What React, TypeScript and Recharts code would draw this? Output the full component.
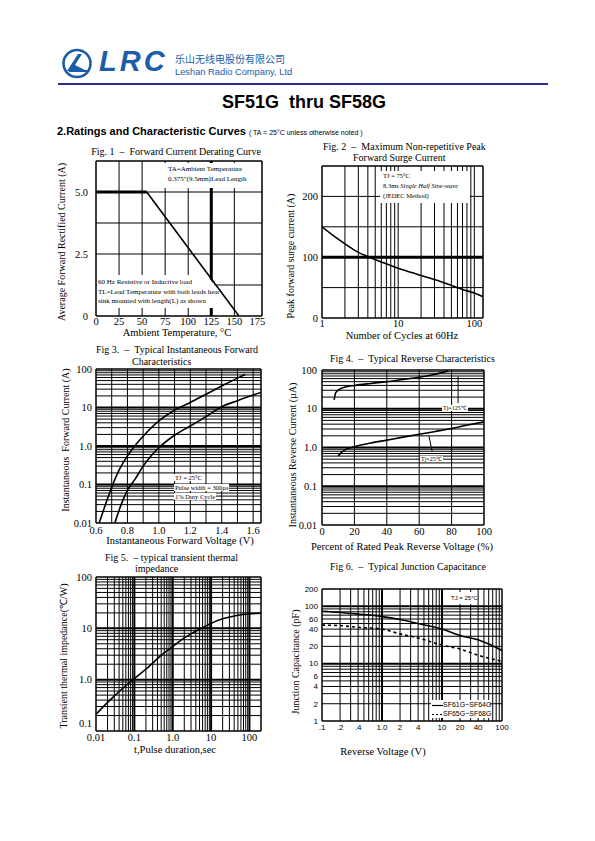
import React from 'react';
import { LineChart, Line, XAxis, YAxis, ReferenceLine } from 'recharts';

// ---------- Fig 1: forward current derating ----------
const f1Flat = [{ t: 0, a: 5 }, { t: 55, a: 5 }];
const f1Slope = [{ t: 55, a: 5 }, { t: 155, a: 0 }];
const f1XTicks = [0, 25, 50, 75, 100, 125, 150, 175];
const f1YTicks = [0, 2.5, 5];
const f1YLabels = ['0', '2.5', '5.0'];
const f1GridX = [25, 50, 75, 100, 125, 150];
const f1GridY = [1.25, 2.5, 3.75, 5];

// ---------- Fig 2: peak forward surge current ----------
const f2Surge = [
  { n: 1, a: 150 }, { n: 1.5, a: 133 }, { n: 2, a: 122 }, { n: 3, a: 108 }, { n: 4, a: 101 },
  { n: 6, a: 92 }, { n: 10, a: 82 }, { n: 20, a: 70 }, { n: 40, a: 58 }, { n: 70, a: 47 },
  { n: 100, a: 41 }, { n: 130, a: 35 },
];
const f2XTicks = [1, 10, 100];
const f2YTicks = [0, 100, 200];
const f2GridY = [50, 100, 150, 200];

// ---------- Fig 3: forward characteristics ----------
const f3CurveA = [
  { v: 0.62, i: 0.01 }, { v: 0.66, i: 0.03 }, { v: 0.7, i: 0.085 }, { v: 0.75, i: 0.25 },
  { v: 0.8, i: 0.55 }, { v: 0.85, i: 1.05 }, { v: 0.9, i: 1.8 }, { v: 1.0, i: 4.5 },
  { v: 1.1, i: 8.5 }, { v: 1.2, i: 13.5 }, { v: 1.3, i: 22 }, { v: 1.4, i: 36 },
  { v: 1.5, i: 58 }, { v: 1.55, i: 72 },
];
const f3CurveB = [
  { v: 0.72, i: 0.01 }, { v: 0.76, i: 0.03 }, { v: 0.8, i: 0.07 }, { v: 0.85, i: 0.14 },
  { v: 0.9, i: 0.3 }, { v: 0.95, i: 0.55 }, { v: 1.0, i: 0.9 }, { v: 1.1, i: 1.9 },
  { v: 1.2, i: 3.3 }, { v: 1.3, i: 5.8 }, { v: 1.4, i: 10.5 }, { v: 1.5, i: 15 },
  { v: 1.6, i: 21 }, { v: 1.65, i: 24.5 },
];
const f3XTicks = [0.6, 0.8, 1.0, 1.2, 1.4, 1.6];
const f3XLabels = ['0.6', '0.8', '1.0', '1.2', '1.4', '1.6'];
const f3GridX = [0.7, 0.8, 0.9, 1.0, 1.1, 1.2, 1.3, 1.4, 1.5, 1.6];
const decadeTicks = [0.01, 0.1, 1, 10, 100];
const decadeLabels = ['0.01', '0.1', '1.0', '10', '100'];

// ---------- Fig 4: reverse characteristics ----------
const f4Tj125 = [
  { p: 7.5, i: 17 }, { p: 8.5, i: 26 }, { p: 11, i: 32 }, { p: 15, i: 37 }, { p: 20, i: 40 },
  { p: 30, i: 45 }, { p: 40, i: 50 }, { p: 50, i: 57 }, { p: 60, i: 65 }, { p: 70, i: 78 },
  { p: 78, i: 95 },
];
const f4Tj25 = [
  { p: 10, i: 0.6 }, { p: 12, i: 0.75 }, { p: 15, i: 0.9 }, { p: 20, i: 1.05 }, { p: 30, i: 1.3 },
  { p: 40, i: 1.55 }, { p: 50, i: 1.85 }, { p: 60, i: 2.2 }, { p: 70, i: 2.6 }, { p: 80, i: 3.1 },
  { p: 90, i: 3.8 }, { p: 100, i: 4.6 },
];
const f4XTicks = [0, 20, 40, 60, 80, 100];
const f4GridX = [20, 40, 60, 80];

// ---------- Fig 5: transient thermal impedance ----------
const f5Thermal = [
  { t: 0.01, z: 0.21 }, { t: 0.02, z: 0.36 }, { t: 0.03, z: 0.48 }, { t: 0.05, z: 0.68 },
  { t: 0.1, z: 1.05 }, { t: 0.2, z: 1.6 }, { t: 0.3, z: 2.1 }, { t: 0.5, z: 3.0 },
  { t: 1, z: 4.4 }, { t: 2, z: 6.5 }, { t: 3, z: 7.8 }, { t: 5, z: 9.6 }, { t: 10, z: 12.5 },
  { t: 20, z: 15.3 }, { t: 50, z: 18 }, { t: 100, z: 19.2 }, { t: 200, z: 19.8 },
];
const f5XTicks = [0.01, 0.1, 1, 10, 100];
const f5XLabels = ['0.01', '0.1', '1.0', '10', '100'];
const f5YTicks = [0.1, 1, 10, 100];
const f5YLabels = ['0.1', '1.0', '10', '100'];

// ---------- Fig 6: junction capacitance ----------
const f6Low = [
  { v: 0.1, c: 82 }, { v: 0.2, c: 78 }, { v: 0.4, c: 73 }, { v: 1, c: 66 }, { v: 2, c: 59 },
  { v: 4, c: 50 }, { v: 10, c: 40 }, { v: 20, c: 31 }, { v: 40, c: 26 }, { v: 100, c: 17 },
];
const f6High = [
  { v: 0.1, c: 47 }, { v: 0.2, c: 46 }, { v: 0.4, c: 43 }, { v: 1, c: 40 }, { v: 2, c: 33 },
  { v: 4, c: 28 }, { v: 10, c: 21 }, { v: 20, c: 18 }, { v: 40, c: 14 }, { v: 100, c: 11 },
];
const f6XTicks = [0.1, 0.2, 0.4, 1, 2, 4, 10, 20, 40, 100];
const f6XLabels = ['.1', '.2', '.4', '1.0', '2', '4', '10', '20', '40', '100'];
const f6YTicks = [1, 2, 4, 6, 10, 20, 40, 60, 100, 200];

// ---------- helpers ----------
const serif = '"Liberation Serif", "Times New Roman", serif';
const sans = '"Liberation Sans", Arial, sans-serif';

const logGrid = (lo: number, hi: number) => {
  const out: number[] = [];
  for (let d = Math.pow(10, Math.floor(Math.log10(lo))); d <= hi; d *= 10) {
    for (let k = 1; k <= 9; k++) {
      const v = +(d * k).toPrecision(6);
      if (v > lo && v < hi) out.push(v);
    }
  }
  return out;
};
const isDecade = (v: number) => Math.abs(Math.log10(v) - Math.round(Math.log10(v))) < 1e-6;
const dec2 = (v: number) => (isDecade(v) ? 2 : 1);

const lines = (vals: number[], axis: 'x' | 'y', width: (v: number) => number = () => 1) =>
  vals.map((v) =>
    axis === 'x' ? (
      <ReferenceLine key={'gx' + v} x={v} stroke="#000" strokeWidth={width(v)} />
    ) : (
      <ReferenceLine key={'gy' + v} y={v} stroke="#000" strokeWidth={width(v)} />
    ),
  );

const labelOf = (ticks: number[], labels: string[]) => (v: number) => {
  const k = ticks.findIndex((t) => Math.abs(t - v) < 1e-9);
  return k >= 0 ? labels[k] : String(v);
};

type Rect = { x0: number; y0: number; x1: number; y1: number };
const PAD_T = 10;
const PAD_R = 12;
const YW = 40;
const XH = 24;
const frame = (r: Rect) => ({
  style: { position: 'absolute' as const, left: r.x0 - YW, top: r.y0 - PAD_T },
  width: r.x1 - r.x0 + YW + PAD_R,
  height: r.y1 - r.y0 + PAD_T + XH,
});
const margin = { top: PAD_T, right: PAD_R, left: 0, bottom: 0 };
const serifTick = { fill: '#000', fontSize: 10.5, fontFamily: serif };
const sansTick = { fill: '#000', fontSize: 8, fontFamily: sans };

// y tick of fig 5: lowest label sits a little above the bottom line
const f5YTick = (props: any) => {
  const { x, y, payload } = props;
  const up = Math.abs(payload.value - 0.1) < 1e-9 ? -8 : 0;
  return (
    <text x={x} y={y + up} dy="0.355em" textAnchor="end" fill="#000" fontSize={10.5} fontFamily={serif}>
      {labelOf(f5YTicks, f5YLabels)(payload.value)}
    </text>
  );
};

const Txt: React.FC<{ x: number; y: number; size?: number; font?: string; bold?: boolean; center?: boolean; color?: string; children: React.ReactNode }> = ({ x, y, size = 10, font = serif, bold, center, color = '#000', children }) => (
  <div
    style={{
      position: 'absolute', left: x, top: y, fontSize: size, fontFamily: font, color,
      fontWeight: bold ? 'bold' : 'normal', whiteSpace: 'nowrap', lineHeight: 1.1,
      transform: center ? 'translate(-50%, -50%)' : undefined,
    }}
  >
    {children}
  </div>
);

const VTxt: React.FC<{ x: number; y: number; size?: number; children: React.ReactNode }> = ({ x, y, size = 10, children }) => (
  <div
    style={{
      position: 'absolute', left: x, top: y, fontSize: size, fontFamily: serif, whiteSpace: 'nowrap',
      lineHeight: 1, transform: 'translate(-50%, -50%) rotate(-90deg)',
    }}
  >
    {children}
  </div>
);

const Note: React.FC<{ x: number; y: number; size?: number; font?: string; lh?: number; rows: React.ReactNode[]; bg?: boolean }> = ({ x, y, size = 7, font = serif, lh = 9.5, rows, bg }) => (
  <div style={{ position: 'absolute', left: x, top: y, fontSize: size, fontFamily: font, lineHeight: lh + 'px', whiteSpace: 'nowrap' }}>
    {rows.map((r, k) => (
      <div key={k}>
        <span style={{ background: bg ? '#fff' : 'transparent', padding: bg ? '0 1px' : 0 }}>{r}</span>
      </div>
    ))}
  </div>
);

const WhiteBox: React.FC<{ x: number; y: number; w: number; h: number; clip?: string }> = ({ x, y, w, h, clip }) => (
  <div style={{ position: 'absolute', left: x, top: y, width: w, height: h, background: '#fff', clipPath: clip }} />
);

// plot rectangles (page pixels)
const r1: Rect = { x0: 96, y0: 161, x1: 262, y1: 316 };
const r2: Rect = { x0: 322, y0: 166, x1: 483, y1: 318 };
const r3: Rect = { x0: 96, y0: 369, x1: 261, y1: 523 };
const r4: Rect = { x0: 322, y0: 370, x1: 484, y1: 525 };
const r5: Rect = { x0: 96, y0: 577, x1: 261, y1: 731 };
const r6: Rect = { x0: 322, y0: 589, x1: 502, y1: 721 };

export default function App() {
  const b1 = frame(r1);
  const b2 = frame(r2);
  const b3 = frame(r3);
  const b4 = frame(r4);
  const b5 = frame(r5);
  const b6 = frame(r6);

  return (
    <div style={{ position: 'absolute', left: 0, top: 0, width: 595, height: 841, background: '#fff', overflow: 'hidden' }}>
      {/* header */}
      <svg style={{ position: 'absolute', left: 60, top: 48 }} width={36} height={32}>
        <circle cx={17} cy={15.5} r={13.5} fill="none" stroke="#1d5ca8" strokeWidth={2.6} />
        <path d="M7 23 L18 6 L22 6 L15 17 L27 23 Z" fill="#1d5ca8" />
        <path d="M9 23 L27 23" stroke="#1d5ca8" strokeWidth={2} />
      </svg>
      <Txt x={99} y={46} size={29} font={sans} bold color="#1d5ca8">
        <span style={{ fontStyle: 'italic', letterSpacing: 3 }}>LRC</span>
      </Txt>
      <Txt x={175} y={53} size={10} font='"Noto Sans CJK SC", sans-serif' color="#1d5ca8">乐山无线电股份有限公司</Txt>
      <Txt x={175} y={67} size={9.3} font={sans} color="#1d5ca8">Leshan Radio Company, Ltd</Txt>
      <div style={{ position: 'absolute', left: 58, top: 83, width: 490, height: 2, background: '#2b2b96' }} />
      <Txt x={222} y={93} size={18} font={sans} bold>SF51G&nbsp;&nbsp;thru SF58G</Txt>
      <Txt x={57} y={125} size={11} font={sans} bold>
        2.Ratings and Characteristic Curves <span style={{ fontSize: 7, fontWeight: 'normal' }}>( TA = 25°C unless otherwise noted )</span>
      </Txt>

      {/* ---------- Fig 1 ---------- */}
      <Txt x={176} y={151} size={10} center>Fig. 1&nbsp;&nbsp;–&nbsp;&nbsp;Forward Current Derating Curve</Txt>
      <div style={b1.style}>
        <LineChart width={b1.width} height={b1.height} margin={margin}>
          <XAxis type="number" dataKey="t" domain={[0, 180]} ticks={f1XTicks} interval={0} height={XH} axisLine={false} tickLine={false} tickSize={2} tickMargin={0} tick={serifTick} allowDataOverflow />
          <YAxis type="number" dataKey="a" domain={[0, 6.25]} ticks={f1YTicks} interval={0} width={YW} axisLine={false} tickLine={false} tickSize={6} tickMargin={2} tick={serifTick} tickFormatter={labelOf(f1YTicks, f1YLabels)} allowDataOverflow />
          {lines(f1GridX, 'x', (v) => (v === 125 ? 3 : 1))}
          {lines(f1GridY, 'y')}
          {lines([0, 180], 'x', () => 1.5)}
          {lines([0, 6.25], 'y', () => 1.5)}
          <Line data={f1Flat} dataKey="a" stroke="#000" strokeWidth={3} dot={false} isAnimationActive={false} />
          <Line data={f1Slope} dataKey="a" stroke="#000" strokeWidth={1.6} dot={false} isAnimationActive={false} />
        </LineChart>
      </div>
      <WhiteBox x={162} y={163} w={99} h={25} />
      <WhiteBox x={97} y={275} w={140} h={33} clip="polygon(0 0, 110px 0, 134px 100%, 0 100%)" />
      <Note x={168} y={164} rows={['TA=Ambient Temperature', '0.375"(9.5mm)Lead Length']} lh={10} />
      <Note x={98} y={278} rows={['60 Hz Resistive or Inductive load', 'TL=Lead Temperature with both leads heat', 'sink mounted with length(L) as shown']} lh={9.5} />
      <Txt x={177} y={333} size={10.5} center>Ambient Temperature, °C</Txt>
      <VTxt x={62} y={242} size={10}>Average Forward Rectified Current (A)</VTxt>

      {/* ---------- Fig 2 ---------- */}
      <Txt x={323} y={141} size={10}>Fig. 2&nbsp;&nbsp;–&nbsp;&nbsp;Maximum Non-repetitive Peak</Txt>
      <Txt x={353} y={152} size={10}>Forward Surge Current</Txt>
      <VTxt x={291} y={256} size={10}>Peak forward surge current (A)</VTxt>
      <div style={b2.style}>
        <LineChart width={b2.width} height={b2.height} margin={margin}>
          <XAxis type="number" dataKey="n" scale="log" domain={[1, 130]} ticks={f2XTicks} interval={0} height={XH} axisLine={false} tickLine={false} tickSize={2} tickMargin={0} tick={serifTick} allowDataOverflow />
          <YAxis type="number" dataKey="a" domain={[0, 250]} ticks={f2YTicks} interval={0} width={YW} axisLine={false} tickLine={false} tickSize={2} tickMargin={2} tick={serifTick} allowDataOverflow />
          {lines(logGrid(1, 130), 'x')}
          {lines(f2GridY, 'y', (v) => (v === 100 ? 3 : 1))}
          {lines([1, 130], 'x', () => 1.5)}
          {lines([0, 250], 'y', () => 1.5)}
          <Line data={f2Surge} dataKey="a" type="monotone" stroke="#000" strokeWidth={1.6} dot={false} isAnimationActive={false} />
        </LineChart>
      </div>
      <WhiteBox x={380} y={171} w={90} h={32} />
      <Note
        x={383}
        y={171}
        size={6.5}
        lh={10}
        rows={['TJ = 75°C', <>8.3ms <i>Single Half Sine-wave</i></>, '(JEDEC Method)']}
      />
      <Txt x={402} y={336} size={10.5} center>Number of Cycles at 60Hz</Txt>

      {/* ---------- Fig 3 ---------- */}
      <Txt x={96} y={344} size={10}>Fig 3.&nbsp;&nbsp;–&nbsp;&nbsp;Typical Instantaneous Forward</Txt>
      <Txt x={132} y={356} size={10}>Characteristics</Txt>
      <div style={b3.style}>
        <LineChart width={b3.width} height={b3.height} margin={margin}>
          <XAxis type="number" dataKey="v" domain={[0.6, 1.65]} ticks={f3XTicks} interval={0} height={XH} axisLine={false} tickLine={false} tickSize={4} tickMargin={0} tick={serifTick} tickFormatter={labelOf(f3XTicks, f3XLabels)} allowDataOverflow />
          <YAxis type="number" dataKey="i" scale="log" domain={[0.01, 100]} ticks={decadeTicks} interval={0} width={YW} axisLine={false} tickLine={false} tickSize={2} tickMargin={2} tick={serifTick} tickFormatter={labelOf(decadeTicks, decadeLabels)} allowDataOverflow />
          {lines(f3GridX, 'x')}
          {lines(logGrid(0.01, 100), 'y', dec2)}
          {lines([0.6, 1.65], 'x', () => 1.5)}
          {lines([0.01, 100], 'y', () => 1.5)}
          <Line data={f3CurveA} dataKey="i" type="monotone" stroke="#000" strokeWidth={1.6} dot={false} isAnimationActive={false} />
          <Line data={f3CurveB} dataKey="i" type="monotone" stroke="#000" strokeWidth={1.6} dot={false} isAnimationActive={false} />
        </LineChart>
      </div>
      <Note x={174} y={473} size={6.5} rows={['TJ = 25°C', 'Pulse width = 300µs', '1% Duty Cycle']} lh={9.5} bg />
      <Txt x={180} y={541} size={10.5} center>Instantaneous Forward Voltage (V)</Txt>
      <VTxt x={66} y={440} size={10}>Instantaneous&nbsp; Forward Current (A)</VTxt>

      {/* ---------- Fig 4 ---------- */}
      <Txt x={330} y={353} size={10}>Fig 4.&nbsp;&nbsp;–&nbsp;&nbsp;Typical Reverse Characteristics</Txt>
      <div style={b4.style}>
        <LineChart width={b4.width} height={b4.height} margin={margin}>
          <XAxis type="number" dataKey="p" domain={[0, 100]} ticks={f4XTicks} interval={0} height={XH} axisLine={false} tickLine={false} tickSize={3} tickMargin={0} tick={serifTick} allowDataOverflow />
          <YAxis type="number" dataKey="i" scale="log" domain={[0.01, 100]} ticks={decadeTicks} interval={0} width={YW} axisLine={false} tickLine={false} tickSize={3} tickMargin={2} tick={serifTick} tickFormatter={labelOf(decadeTicks, decadeLabels)} allowDataOverflow />
          {lines(f4GridX, 'x')}
          {lines(logGrid(0.01, 100), 'y', dec2)}
          {lines([0, 100], 'x', () => 1.5)}
          {lines([0.01, 100], 'y', () => 1.5)}
          <ReferenceLine segment={[{ x: 84, y: 14 }, { x: 84, y: 68 }]} stroke="#000" strokeWidth={1} />
          <ReferenceLine segment={[{ x: 68, y: 0.8 }, { x: 66, y: 2.0 }]} stroke="#000" strokeWidth={1} />
          <Line data={f4Tj125} dataKey="i" type="monotone" stroke="#000" strokeWidth={1.6} dot={false} isAnimationActive={false} />
          <Line data={f4Tj25} dataKey="i" type="monotone" stroke="#000" strokeWidth={1.6} dot={false} isAnimationActive={false} />
        </LineChart>
      </div>
      <Note x={442} y={404} size={6} rows={['Tj=125℃']} lh={9} bg />
      <Note x={420} y={455} size={6} rows={['Tj=25℃']} lh={9} bg />
      <Txt x={402} y={547} size={10.5} center>Percent of Rated Peak Reverse Voltage (%)</Txt>
      <VTxt x={293} y={455} size={10}>Instantaneous Reverse Current (µA)</VTxt>

      {/* ---------- Fig 5 ---------- */}
      <Txt x={105} y={552} size={10}>Fig 5.&nbsp;&nbsp;– typical transient thermal</Txt>
      <Txt x={135} y={563} size={10}>impedance</Txt>
      <div style={b5.style}>
        <LineChart width={b5.width} height={b5.height} margin={margin}>
          <XAxis type="number" dataKey="t" scale="log" domain={[0.01, 200]} ticks={f5XTicks} interval={0} height={XH} axisLine={false} tickLine={false} tickSize={3} tickMargin={0} tick={serifTick} tickFormatter={labelOf(f5XTicks, f5XLabels)} allowDataOverflow />
          <YAxis type="number" dataKey="z" scale="log" domain={[0.1, 100]} ticks={f5YTicks} interval={0} width={YW} axisLine={false} tickLine={false} tickSize={2} tickMargin={2} tick={f5YTick} allowDataOverflow />
          {lines(logGrid(0.01, 200), 'x', dec2)}
          {lines(logGrid(0.1, 100), 'y', dec2)}
          {lines([0.01, 200], 'x', () => 1.5)}
          {lines([0.1, 100], 'y', () => 1.5)}
          <Line data={f5Thermal} dataKey="z" type="monotone" stroke="#000" strokeWidth={1.6} dot={false} isAnimationActive={false} />
        </LineChart>
      </div>
      <Txt x={175} y={750} size={10.5} center>t,Pulse duration,sec</Txt>
      <VTxt x={64} y={656} size={10}>Transient thermal impedance(℃/W)</VTxt>

      {/* ---------- Fig 6 ---------- */}
      <Txt x={330} y={561} size={10}>Fig 6.&nbsp;&nbsp;–&nbsp;&nbsp;Typical Junction Capacitance</Txt>
      <div style={b6.style}>
        <LineChart width={b6.width} height={b6.height} margin={margin}>
          <XAxis type="number" dataKey="v" scale="log" domain={[0.1, 100]} ticks={f6XTicks} interval={0} height={XH} axisLine={false} tickLine={false} tickSize={3} tickMargin={0} tick={sansTick} tickFormatter={labelOf(f6XTicks, f6XLabels)} allowDataOverflow />
          <YAxis type="number" dataKey="c" scale="log" domain={[1, 200]} ticks={f6YTicks} interval={0} width={YW} axisLine={false} tickLine={false} tickSize={2} tickMargin={2} tick={sansTick} allowDataOverflow />
          {lines(logGrid(0.1, 100), 'x', dec2)}
          {lines(logGrid(1, 200), 'y', dec2)}
          {lines([0.1, 100], 'x', () => 1.5)}
          {lines([1, 200], 'y', () => 1.5)}
          <Line data={f6Low} dataKey="c" type="monotone" stroke="#000" strokeWidth={1.6} dot={false} isAnimationActive={false} />
          <Line data={f6High} dataKey="c" type="monotone" stroke="#000" strokeWidth={1.6} strokeDasharray="3 3" dot={false} isAnimationActive={false} />
        </LineChart>
      </div>
      <WhiteBox x={449} y={592} w={28} h={12} />
      <Note x={451} y={593} size={6} font={sans} rows={['TJ = 25°C']} lh={10} />
      <WhiteBox x={431} y={700} w={59} h={18} />
      <div style={{ position: 'absolute', left: 432, top: 700, fontSize: 7, fontFamily: sans, lineHeight: '9px', whiteSpace: 'nowrap' }}>
        <div>
          <svg width={11} height={7} style={{ verticalAlign: 'middle' }}>
            <line x1={0} y1={3.5} x2={11} y2={3.5} stroke="#000" strokeWidth={1.2} />
          </svg>
          SF61G~SF64G
        </div>
        <div>
          <svg width={11} height={7} style={{ verticalAlign: 'middle' }}>
            <line x1={0} y1={3.5} x2={11} y2={3.5} stroke="#000" strokeWidth={1} strokeDasharray="2 2" />
          </svg>
          SF65G~SF68G
        </div>
      </div>
      <Txt x={383} y={752} size={10.5} center>Reverse Voltage (V)</Txt>
      <VTxt x={296} y={662} size={10}>Junction Capacitance (pF)</VTxt>
    </div>
  );
}
